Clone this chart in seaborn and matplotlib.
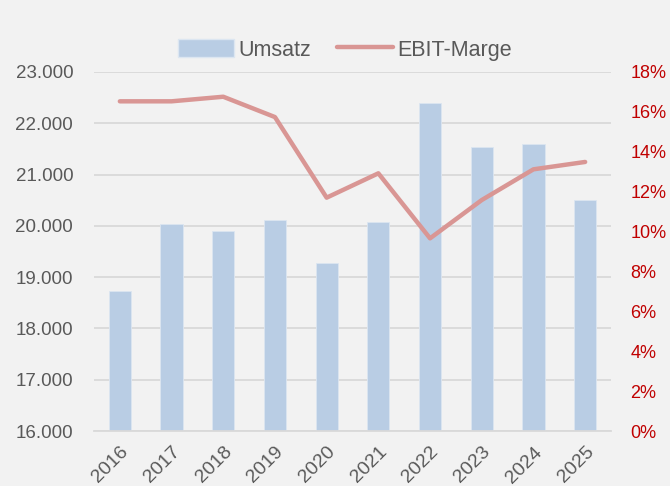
import matplotlib
matplotlib.use("Agg")
import matplotlib.pyplot as plt
import seaborn as sns
import pandas as pd
import numpy as np
from matplotlib.ticker import FuncFormatter, FixedLocator
from matplotlib.patches import Patch
from matplotlib.lines import Line2D

years = ["2016", "2017", "2018", "2019", "2020", "2021", "2022", "2023", "2024", "2025"]
umsatz = [18730, 20030, 19900, 20120, 19270, 20070, 22400, 21530, 21600, 20500]
ebit_marge = [16.53, 16.53, 16.76, 15.74, 11.70, 12.92, 9.66, 11.58, 13.12, 13.49]
left_ticks = [16000, 17000, 18000, 19000, 20000, 21000, 22000, 23000]
right_ticks = [0, 2, 4, 6, 8, 10, 12, 14, 16, 18]

sns.set_theme(style="white")
plt.rcParams["font.family"] = ["Liberation Sans", "DejaVu Sans"]

bg = "#f2f2f2"
grid_c = "#d9d9d9"
bar_c = "#b9cde4"
line_c = "#d99694"
text_c = "#595959"
red_c = "#c00000"

df = pd.DataFrame({"Jahr": years, "Umsatz": umsatz, "EBIT": ebit_marge})

fig = plt.figure(figsize=(6.7, 4.86), dpi=100)
fig.patch.set_facecolor(bg)
ax = fig.add_axes([94/670, 1-431/486, (611-94)/670, (431-72)/486])
ax.set_facecolor(bg)

sns.barplot(data=df, x="Jahr", y="Umsatz", color=bar_c, width=0.43, ax=ax,
            saturation=1, edgecolor="#dce6f1", linewidth=0.6, zorder=2)
ax.set_ylim(16000, 23000)
ax.set_xlim(-0.5, len(years)-0.5)
ax.yaxis.set_major_locator(FixedLocator(left_ticks))
ax.yaxis.set_major_formatter(FuncFormatter(lambda v, p: f"{int(v):,}".replace(",", ".")))
ax.grid(axis="y", color=grid_c, linewidth=1.3, zorder=0)
ax.set_axisbelow(True)
for s in ["top", "right", "left"]:
    ax.spines[s].set_visible(False)
ax.spines["bottom"].set_color(grid_c)
ax.spines["bottom"].set_linewidth(1.3)
ax.set_xlabel("")
ax.set_ylabel("")
ax.tick_params(axis="y", length=0, labelsize=13.5, labelcolor=text_c, pad=15)
ax.tick_params(axis="x", which="major", length=0, labelsize=14, labelcolor=text_c, pad=9)
ax.set_xticks(np.arange(-0.5, len(years), 1.0), minor=True)
ax.tick_params(axis="x", which="minor", length=7, width=1.3, color=grid_c, direction="out")
for lab in ax.get_xticklabels():
    lab.set_rotation(45)
    lab.set_ha("right")
    lab.set_rotation_mode("anchor")

ax2 = ax.twinx()
sns.lineplot(data=df, x="Jahr", y="EBIT", color=line_c, linewidth=3.2, ax=ax2,
             sort=False, zorder=3)
ax2.set_ylim(0, 18)
ax2.yaxis.set_major_locator(FixedLocator(right_ticks))
ax2.yaxis.set_major_formatter(FuncFormatter(lambda v, p: f"{int(v)}%"))
ax2.tick_params(axis="y", length=0, labelsize=13, labelcolor=red_c, pad=14)
ax2.set_ylabel("")
ax2.set_xlabel("")
for s in ["top", "right", "left", "bottom"]:
    ax2.spines[s].set_visible(False)
ax2.grid(False)
ax2.set_xlim(-0.5, len(years)-0.5)

handles = [Patch(facecolor=bar_c, edgecolor="#dce6f1", label="Umsatz"),
           Line2D([0], [0], color=line_c, linewidth=3.2, label="EBIT-Marge")]
leg = fig.legend(handles=handles, loc="center", bbox_to_anchor=(345/670, 1-50/486),
                 ncol=2, frameon=False, fontsize=15.5, handlelength=2.6, handleheight=0.9,
                 handletextpad=0.2, columnspacing=1.2)
for t in leg.get_texts():
    t.set_color(text_c)

fig.savefig("out.png", dpi=100, facecolor=bg)
